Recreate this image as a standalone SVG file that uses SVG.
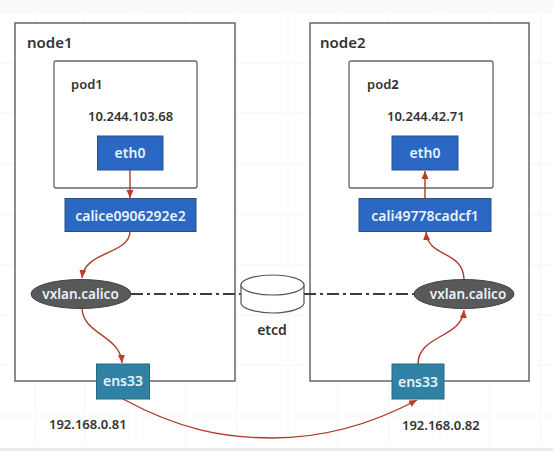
<svg xmlns="http://www.w3.org/2000/svg" width="553" height="451" viewBox="0 0 553 451">
<style>
text{font-family:"Noto Sans","Open Sans","DejaVu Sans",sans-serif;font-weight:600;fill:#333}
.node{fill:#fff;stroke:#666;stroke-width:1.5}
.pod{fill:#fff;stroke:#666;stroke-width:1.3}
.blue{fill:#2b68c4;stroke:#2c4f80;stroke-width:1}
.teal{fill:#2f82a3;stroke:#2a6880;stroke-width:1}
.w{fill:#e8f2fa;text-anchor:middle;font-size:14px}
.e{font-size:13.500px}
.wire{fill:none;stroke:#b0392b;stroke-width:1.4}
.dash{fill:none;stroke:#3d3d3d;stroke-width:1.800;stroke-dasharray:12 4 3 4}
.grid{stroke:#f5f5f5;stroke-width:1;fill:none}
</style>
<defs>
<marker id="a" markerWidth="9" markerHeight="8" refX="8" refY="3.500" orient="auto" markerUnits="userSpaceOnUse"><path d="M0 0L8 3.500L0 7Z" fill="#c0392b"/></marker>
</defs>
<rect width="553" height="451" fill="#fff"/>
<rect x="0" y="0" width="553" height="12" fill="#fafafa"/>
<rect x="0" y="448" width="553" height="3" fill="#ececec"/>
<path class="grid" d="M0 13H553M0 63H553M0 113H553M0 164H553M0 214H553M0 265H553M0 315H553M0 365H553M0 416H553M35 13V445M85 13V445M136 13V445M186 13V445M237 13V445M288 13V445M338 13V445M389 13V445M440 13V445M490 13V445M541 13V445"/>
<g id="node1"><rect class="node" x="15" y="23" width="220" height="358"/><text x="27" y="48" font-size="15">node1</text></g>
<g id="node2"><rect class="node" x="310" y="23" width="219" height="358"/><text x="320" y="48" font-size="15">node2</text></g>
<g id="pod1"><rect class="pod" x="54" y="61" width="143" height="127" rx="2"/><text x="71" y="89" font-size="13">pod1</text><text x="88" y="121" font-size="13">10.244.103.68</text></g>
<g id="pod2"><rect class="pod" x="349" y="61" width="144" height="127" rx="2"/><text x="367" y="89" font-size="13">pod<tspan font-weight="700">2</tspan></text><text x="387" y="121" font-size="13">10.244.42.71</text></g>
<g id="connectors">
<path class="wire" d="M130 170V198" marker-end="url(#a)"/>
<path class="wire" d="M130 231C130 255 85 250 82 278" marker-end="url(#a)"/>
<path class="wire" d="M82 309C84 335 120 335 122 363" marker-end="url(#a)"/>
<path class="wire" d="M123 399C180 430 225 438 272 438C325 438 372 424 417 400" marker-end="url(#a)"/>
<path class="wire" d="M418 364C418 335 462 338 464 310" marker-end="url(#a)"/>
<path class="wire" d="M464 279C463 250 428 258 426 232" marker-end="url(#a)"/>
<path class="wire" d="M425 198V171" marker-end="url(#a)"/>
<path class="dash" d="M131 294H241"/>
<path class="dash" d="M304 294H414"/>
</g>
<g id="eth0-1"><rect class="blue" x="97.500" y="136" width="65.500" height="34"/><text class="w" x="130" y="158">eth0</text></g>
<g id="eth0-2"><rect class="blue" x="392" y="136" width="66" height="34"/><text class="w" x="425" y="158">eth0</text></g>
<g id="calice"><rect class="blue" x="65" y="198.500" width="131" height="33"/><text class="w" x="130.500" y="221">calice0906292e2</text></g>
<g id="cali"><rect class="blue" x="359" y="198.500" width="132" height="33"/><text class="w" x="425" y="221">cali49778cadcf1</text></g>
<g id="vxlan1"><ellipse cx="81" cy="294" rx="50" ry="14.500" fill="#595959" stroke="#444"/><text class="w e" x="80.500" y="299">vxlan.calico</text></g>
<g id="vxlan2"><ellipse cx="464" cy="294" rx="50" ry="14.500" fill="#595959" stroke="#444"/><text class="w e" x="468" y="299">vxlan.calico</text></g>
<g id="etcd"><path d="M241 285V303C241 308 255 313 272.500 313S304 308 304 303V285" fill="#fff" stroke="#555" stroke-width="1.200"/><ellipse cx="272.500" cy="285" rx="31.500" ry="10" fill="#fff" stroke="#555" stroke-width="1.200"/><text x="272" y="335" text-anchor="middle" font-size="14">etcd</text></g>
<g id="ens33-1"><rect class="teal" x="96.500" y="364" width="53" height="35"/><text class="w" x="123" y="386">ens33</text></g>
<g id="ens33-2"><rect class="teal" x="392" y="364" width="52" height="35"/><text class="w" x="418" y="387">ens33</text></g>
<text x="49" y="429" font-size="13">192.168.0.81</text>
<text x="402" y="430" font-size="13">192.168.0.82</text>
</svg>
